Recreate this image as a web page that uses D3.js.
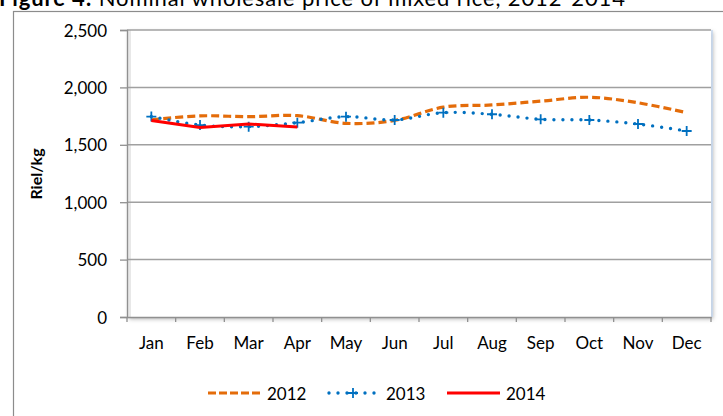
<!DOCTYPE html>
<html>
<head>
<meta charset="utf-8">
<script src="https://cdn.jsdelivr.net/npm/d3@7"></script>
<style>
  html, body { margin: 0; padding: 0; background: #fff; }
  svg { display: block; font-family: Lato, "Open Sans", sans-serif; }
</style>
</head>
<body>
<svg id="chart" width="723" height="416"></svg>
<script>
const months = ["Jan","Feb","Mar","Apr","May","Jun","Jul","Aug","Sep","Oct","Nov","Dec"];
const values2012 = [1718, 1752, 1745, 1754, 1687, 1712, 1828, 1847, 1880, 1914, 1866, 1780];
const values2013 = [1746, 1672, 1658, 1693, 1745, 1716, 1780, 1766, 1722, 1716, 1681, 1620];
const values2014 = [1712, 1650, 1681, 1655];
const yTicks = [0, 500, 1000, 1500, 2000, 2500];
const seriesNames = ["2012", "2013", "2014"];
const titleBold = "Figure 4:";
const titleRest = " Nominal wholesale price of mixed rice, 2012-2014";
const yTitle = "Riel/kg";

const svg = d3.select("#chart");
const plot = {left: 127, right: 711, top: 30, bottom: 317};

const x = d3.scaleBand().domain(months).range([plot.left, plot.right]).padding(0);
const y = d3.scaleLinear().domain([0, 2500]).range([plot.bottom, plot.top]);

const defs = svg.append("defs");
const f = defs.append("filter").attr("id", "sh").attr("x", "-5%").attr("y", "-5%").attr("width", "110%").attr("height", "115%");
f.append("feDropShadow").attr("dx", 2).attr("dy", 2).attr("stdDeviation", 2).attr("flood-color", "#000").attr("flood-opacity", 0.3);

// title (cut off at top, as in the reference)
const title = svg.append("text").attr("x", -1).attr("y", 6).attr("font-size", 22).attr("fill", "#000")
  .attr("textLength", 626).attr("lengthAdjust", "spacing");
title.append("tspan").attr("font-weight", "bold").text(titleBold);
title.append("tspan").text(titleRest);

// outer frame
svg.append("rect").attr("x", 13.5).attr("y", 11.5).attr("width", 760).attr("height", 460)
  .attr("fill", "none").attr("stroke", "#8c8c8c").attr("stroke-width", 1.2);

// plot area with shadow
svg.append("rect").attr("x", plot.left).attr("y", plot.top)
  .attr("width", plot.right - plot.left).attr("height", plot.bottom - plot.top)
  .attr("fill", "#fff").attr("filter", "url(#sh)");
svg.append("rect").attr("x", plot.left + 1).attr("y", plot.top).attr("width", 3).attr("height", plot.bottom - plot.top)
  .attr("fill", "#e8e8e8");
svg.append("line").attr("x1", plot.right + 1).attr("x2", plot.right + 1).attr("y1", plot.top).attr("y2", plot.bottom)
  .attr("stroke", "#c6d9f1").attr("stroke-width", 1.5);

// gridlines
svg.append("g").selectAll("line").data(yTicks.filter(d => d > 0)).join("line")
  .attr("x1", plot.left).attr("x2", plot.right)
  .attr("y1", d => y(d)).attr("y2", d => y(d))
  .attr("stroke", "#a0a0a0").attr("stroke-width", 1.5);

// y axis
const yAxis = svg.append("g").attr("transform", `translate(${plot.left},0)`)
  .call(d3.axisLeft(y).tickValues(yTicks).tickSize(7).tickPadding(13).tickFormat(d3.format(",")));
yAxis.select(".domain").attr("stroke", "#909090").attr("stroke-width", 1.3);
yAxis.selectAll(".tick line").attr("stroke", "#909090").attr("stroke-width", 1.3);
yAxis.selectAll("text").attr("font-size", 17).attr("fill", "#000").attr("font-family", "Lato, sans-serif").attr("dy", "0.36em");

// x axis
const xAxis = svg.append("g").attr("transform", `translate(0,${plot.bottom})`)
  .call(d3.axisBottom(x).tickSize(0).tickPadding(0));
xAxis.select(".domain").attr("stroke", "#909090").attr("stroke-width", 1.3);
xAxis.selectAll("text").attr("font-size", 17).attr("fill", "#000").attr("font-family", "Lato, sans-serif")
  .attr("dy", null).attr("y", 32);
// boundary ticks
const bounds = months.map(m => x(m)).concat([plot.right]);
svg.append("g").selectAll("line").data(bounds).join("line")
  .attr("x1", d => d).attr("x2", d => d).attr("y1", plot.bottom).attr("y2", plot.bottom + 5)
  .attr("stroke", "#909090").attr("stroke-width", 1.3);

// y title
svg.append("text").attr("transform", "translate(42,174) rotate(-90)")
  .attr("text-anchor", "middle").attr("font-size", 16).attr("font-weight", "bold").text(yTitle);

const cx = m => x(m) + x.bandwidth() / 2;
const smooth = d3.line().x(d => cx(d.m)).y(d => y(d.v)).curve(d3.curveCatmullRom.alpha(0.5));
const straight = d3.line().x(d => cx(d.m)).y(d => y(d.v));

const d2012 = values2012.map((v, i) => ({m: months[i], v}));
const d2013 = values2013.map((v, i) => ({m: months[i], v}));
const d2014 = values2014.map((v, i) => ({m: months[i], v}));

const orange = "#e46c0a", blue = "#0070c0", red = "#ff0000";

svg.append("path").datum(d2012).attr("d", smooth).attr("fill", "none")
  .attr("stroke", orange).attr("stroke-width", 3.2).attr("stroke-dasharray", "8 4");
svg.append("path").datum(d2013).attr("d", smooth).attr("fill", "none")
  .attr("stroke", blue).attr("stroke-width", 3.4).attr("stroke-linecap", "round").attr("stroke-dasharray", "0 9");
svg.append("g").selectAll("path").data(d2013).join("path")
  .attr("d", d => `M${cx(d.m) - 5},${y(d.v)}h10M${cx(d.m)},${y(d.v) - 5}v10`)
  .attr("stroke", blue).attr("stroke-width", 1.8);
svg.append("path").datum(d2014).attr("d", straight).attr("fill", "none")
  .attr("stroke", red).attr("stroke-width", 3);

// legend
const ly = 393;
const legend = svg.append("g");
legend.append("line").attr("x1", 208).attr("x2", 262).attr("y1", ly).attr("y2", ly)
  .attr("stroke", orange).attr("stroke-width", 3.2).attr("stroke-dasharray", "8 3");
legend.append("text").attr("x", 267).attr("y", ly + 7).attr("font-size", 17).text(seriesNames[0]);
legend.append("line").attr("x1", 329).attr("x2", 377).attr("y1", ly).attr("y2", ly)
  .attr("stroke", blue).attr("stroke-width", 3.4).attr("stroke-linecap", "round").attr("stroke-dasharray", "0 9");
legend.append("path").attr("d", `M348,${ly}h10M353,${ly - 5}v10`).attr("stroke", blue).attr("stroke-width", 1.8);
legend.append("text").attr("x", 386).attr("y", ly + 7).attr("font-size", 17).text(seriesNames[1]);
legend.append("line").attr("x1", 447).attr("x2", 500).attr("y1", ly).attr("y2", ly)
  .attr("stroke", red).attr("stroke-width", 3);
legend.append("text").attr("x", 506).attr("y", ly + 7).attr("font-size", 17).text(seriesNames[2]);
</script>
</body>
</html>
